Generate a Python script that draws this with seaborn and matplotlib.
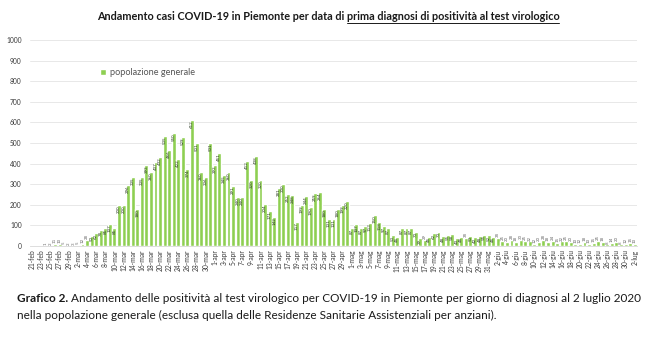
import numpy as np
import pandas as pd
import matplotlib
matplotlib.use("Agg")
import matplotlib.pyplot as plt
from matplotlib.lines import Line2D
import seaborn as sns

# Daily positive cases, general population, 21 Feb - 2 Jul 2020
giorni = pd.date_range("2020-02-21", "2020-07-02", freq="D")
mesi = {2: "feb", 3: "mar", 4: "apr", 5: "mag", 6: "giu", 7: "lug"}
etichette = [f"{d.day}-{mesi[d.month]}" for d in giorni]

casi = [
    0, 0, 0, 1, 2, 11, 10, 5, 2,                      # 21-29 feb
    3, 5, 12, 28, 50, 62, 78, 85, 107, 85,            # 1-10 mar
    200, 200, 296, 335, 180, 335, 393, 360, 407, 432, 535,  # 11-21 mar
    466, 550, 422, 529, 374, 612, 501, 360, 336, 501,  # 22-31 mar
    393, 451, 345, 360, 291, 240, 240, 412, 320, 438,  # 1-10 apr
    320, 204, 171, 142, 281, 300, 252, 248, 117, 199,  # 11-20 apr
    244, 190, 259, 264, 180, 131, 131, 180, 199, 220,  # 21-30 apr
    87, 107, 87, 97, 113, 150, 118, 97, 87, 53,        # 1-10 mag
    45, 87, 87, 87, 70, 39, 29, 45, 62, 70,            # 11-20 mag
    48, 55, 58, 40, 45, 38, 50, 42, 48, 55, 52,        # 21-31 mag
    45, 38, 25, 20, 28, 18, 30, 25, 22, 12,            # 1-10 giu
    20, 28, 18, 24, 15, 22, 25, 20, 10, 12,            # 11-20 giu
    18, 10, 15, 25, 18, 8, 14, 20, 8, 12,              # 21-30 giu
    15, 10,                                            # 1-2 lug
]

serie = "popolazione generale"
titolo_1 = "Andamento casi COVID-19 in Piemonte per data di "
titolo_2 = "prima diagnosi di positività al test virologico"
didascalia_b = "Grafico 2."
didascalia_1 = ("Andamento delle positività al test virologico per COVID-19 in Piemonte "
                "per giorno di diagnosi al 2 luglio 2020")
didascalia_2 = ("nella popolazione generale (esclusa quella delle Residenze Sanitarie "
                "Assistenziali per anziani).")

df = pd.DataFrame({"giorno": etichette, "casi": casi})

sns.set_theme(style="white")
plt.rcParams["font.family"] = ["Lato", "DejaVu Sans"]

VERDE = "#8ecf52"
W, H = 650, 350
fig = plt.figure(figsize=(W / 100, H / 100), dpi=100)
ax = fig.add_axes([30 / W, 104 / H, 607 / W, 206 / H])

sns.barplot(data=df, x="giorno", y="casi", color=VERDE, saturation=1,
            width=0.86, label=serie, ax=ax)

ax.set_ylim(0, 1000)
ax.set_xlim(-0.5, len(casi) - 0.5)
ax.set_yticks(np.arange(0, 1001, 100))
ax.set_xticks(range(0, len(casi), 2))
ax.set_xticklabels(etichette[::2], rotation=90)
ax.tick_params(axis="x", labelsize=4.8, colors="#3a3a3a", length=0, pad=2.5)
ax.tick_params(axis="y", labelsize=4.8, colors="#3a3a3a", length=0, pad=6)
ax.set_xlabel("")
ax.set_ylabel("")
ax.yaxis.grid(True, color="#e4e4e4", linewidth=0.6)
ax.set_axisbelow(True)
for s in ["top", "right", "left"]:
    ax.spines[s].set_visible(False)
ax.spines["bottom"].set_color("#d8d8d8")
ax.spines["bottom"].set_linewidth(0.6)

# value labels, vertical, at the top of each bar
px_per_unit = 206 / 1000
for i, v in enumerate(casi):
    if v <= 0:
        continue
    lab_px = 2.5 * len(str(v)) + 2
    if v * px_per_unit > lab_px + 1:
        ax.text(i, v - 3, str(v), rotation=90, ha="center", va="top",
                fontsize=3.2, color="#2f3d27")
    else:
        ax.text(i, v + 4, str(v), rotation=90, ha="center", va="bottom",
                fontsize=3.2, color="#666666")

leg = ax.legend(loc="center left", bbox_to_anchor=(0.11, 0.84), frameon=False,
                fontsize=6.6, handlelength=0.6, handleheight=0.6, handletextpad=0.4,
                borderaxespad=0)
for t in leg.get_texts():
    t.set_color("#555555")

# title with the underlined second half
fig.canvas.draw()
r = fig.canvas.get_renderer()
tkw = dict(fontsize=7.8, fontweight="bold", color="#1a1a1a", va="baseline")
y_t = 1 - 20 / H
full = fig.text(0, y_t, titolo_1 + titolo_2, **tkw)
wfull = full.get_window_extent(r).width
full.remove()
p2 = fig.text(0, y_t, titolo_2, **tkw)
w2 = p2.get_window_extent(r).width
x_start = 328 - wfull / 2
fig.text(x_start / W, y_t, titolo_1, **tkw)
p2.set_x((x_start + wfull - w2) / W)
y_u = y_t - 2.5 / H
fig.add_artist(Line2D([(x_start + wfull - w2) / W, (x_start + wfull) / W],
                      [y_u, y_u], transform=fig.transFigure,
                      color="#1a1a1a", linewidth=0.7))

# caption below the chart
ckw = dict(fontsize=8.45, color="#1a1a1a", va="baseline")
y1 = 1 - 302 / H
y2 = 1 - 319 / H
b = fig.text(17 / W, y1, didascalia_b, fontweight="bold", **ckw)
bx = b.get_window_extent(r).x1
fig.text((bx + 3) / W, y1, didascalia_1, **ckw)
fig.text(17 / W, y2, didascalia_2, **ckw)

fig.savefig("out.png", dpi=100)
